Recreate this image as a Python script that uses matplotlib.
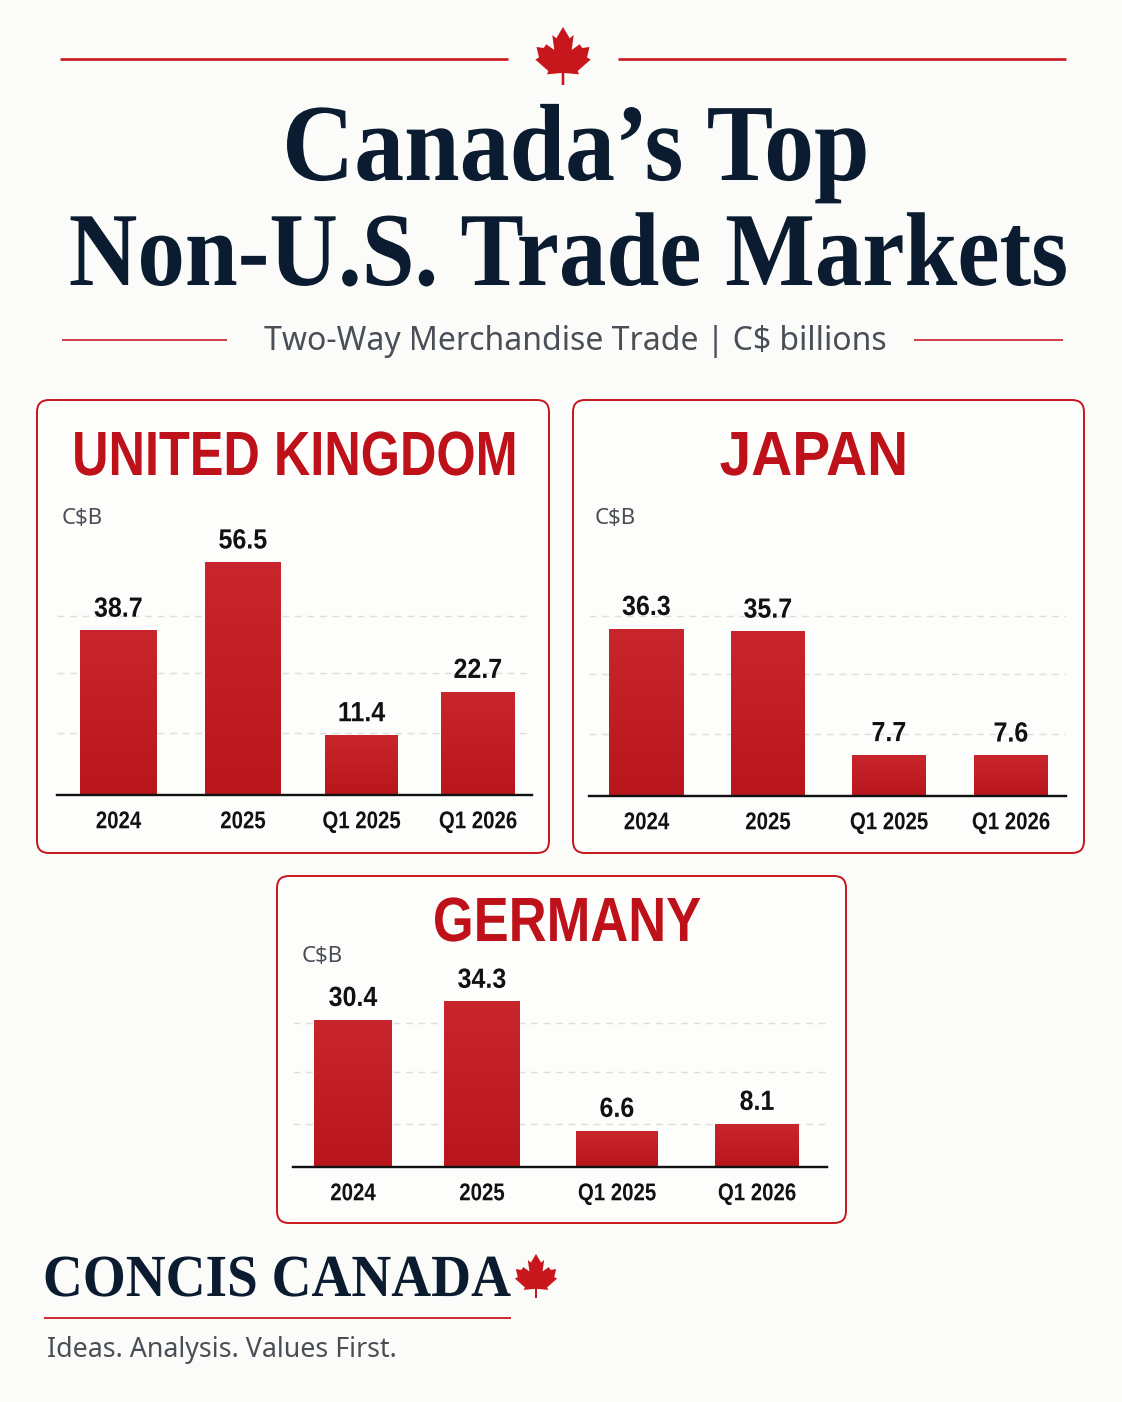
import matplotlib
matplotlib.use('Agg')
import matplotlib.pyplot as plt
import numpy as np
from matplotlib.patches import FancyBboxPatch, Polygon
from matplotlib.patheffects import AbstractPathEffect
from matplotlib.transforms import Affine2D

# ── Data ─────────────────────────────────────────────────────────────────
periods = ['2024', '2025', 'Q1 2025', 'Q1 2026']
uk_values = [38.7, 56.5, 11.4, 22.7]
japan_values = [36.3, 35.7, 7.7, 7.6]
germany_values = [30.4, 34.3, 6.6, 8.1]

# dashed guides carry no labels in the source, levels are estimates
uk_grid = [11.9, 27.6, 42.5]
japan_grid = [12.4, 26.0, 39.2]
germany_grid = [8.0, 19.2, 29.7]

# ── Palette ──────────────────────────────────────────────────────────────
BG = '#FBFBF9'
NAVY = '#0B1B30'
RED = '#C8161D'
TITLE_RED = '#BE1119'
BAR_TOP = '#C9252D'
BAR_BOTTOM = '#B8161C'
GRAY = '#4A4F57'
GRID = '#DEDEDC'

W, H = 1122, 1402
SERIF = ['Liberation Serif', 'DejaVu Serif']
SANS = ['Liberation Sans', 'DejaVu Sans']
PX = 72 / 100  # one pixel in points at dpi 100


class Squeeze(AbstractPathEffect):
    """Narrow a text horizontally about its centre (no condensed font installed)."""

    def __init__(self, sx):
        super().__init__()
        self.sx = sx

    def draw_path(self, renderer, gc, tpath, affine, rgbFace=None):
        xs = affine.transform(tpath.vertices)[:, 0]
        cx = (xs.min() + xs.max()) / 2
        squeezed = affine + Affine2D().translate(-cx, 0).scale(self.sx, 1).translate(cx, 0)
        renderer.draw_path(gc, tpath, squeezed, rgbFace)


fig = plt.figure(figsize=(W / 100, H / 100), dpi=100, facecolor=BG)
bg = fig.add_axes([0, 0, 1, 1])
bg.set_xlim(0, W)
bg.set_ylim(H, 0)
bg.axis('off')

# half a maple leaf, traced from the header ornament (x out, y up from stem foot)
LEAF_HALF = [(0, 58), (6.7, 46.7), (10.7, 50), (8.7, 35), (16.7, 40.7), (19.3, 37),
             (26.5, 38), (24, 27.5), (27.7, 25.5), (14.7, 14), (16, 10.7),
             (1.3, 12), (1.3, 0)]


def leaf(cx, foot_y, scale=1.0):
    half = np.array(LEAF_HALF) * scale
    right = np.column_stack([cx + half[:, 0], foot_y - half[:, 1]])
    left = np.column_stack([cx - half[:, 0], foot_y - half[:, 1]])[::-1]
    bg.add_patch(Polygon(np.vstack([right, left]), closed=True,
                         facecolor=RED, edgecolor='none'))


def rule(x0, x1, y, px):
    bg.plot([x0, x1], [y, y], color=RED, lw=px * PX, solid_capstyle='butt')


# ── Header ───────────────────────────────────────────────────────────────
rule(60, 508, 59, 2.6)
rule(618, 1066, 59, 2.6)
leaf(563, 85)

bg.text(576, 180, 'Canada’s Top', family=SERIF, fontweight='bold', fontsize=79,
        color=NAVY, ha='center', va='baseline', path_effects=[Squeeze(0.91)])
bg.text(569, 285, 'Non-U.S. Trade Markets', family=SERIF, fontweight='bold', fontsize=75.5,
        color=NAVY, ha='center', va='baseline', path_effects=[Squeeze(0.906)])

rule(62, 227, 340, 1.6)
rule(914, 1063, 340, 1.6)
bg.text(575.5, 342, 'Two-Way Merchandise Trade | C$ billions', family='Noto Sans',
        fontsize=23, color=GRAY, ha='center', va='center')


# ── Panels ───────────────────────────────────────────────────────────────
def panel(name, values, grid, box, title_xy, title_squeeze, unit_xy, axis_x, base_y, centers,
          widths, slope, floor, tick_pad=11):
    x0, y0, x1, y1 = box
    bg.add_patch(FancyBboxPatch((x0, y0), x1 - x0, y1 - y0,
                                boxstyle='round,pad=0,rounding_size=12',
                                facecolor='#FDFDFC', edgecolor=RED, linewidth=1.4))
    bg.text(title_xy[0], title_xy[1], name, family=SANS, fontweight='bold',
            fontsize=45, color=TITLE_RED, ha='center', va='baseline',
            path_effects=[Squeeze(title_squeeze)])
    bg.text(unit_xy[0], unit_xy[1], 'C$B', family='Noto Sans', fontsize=16,
            color=GRAY, ha='left', va='center')

    top_y = y0 + 60
    ax = fig.add_axes([axis_x[0] / W, 1 - base_y / H,
                       (axis_x[1] - axis_x[0]) / W, (base_y - top_y) / H])
    ax.patch.set_alpha(0)

    # the source bars are not strictly to scale: small bars sit a little high,
    # so the value axis starts just under zero
    vals = np.array(values)
    bars = ax.bar(centers, vals - floor, bottom=floor, width=widths, color=BAR_TOP, zorder=3)
    ramp = np.linspace(0, 1, 64).reshape(-1, 1)
    cmap = matplotlib.colors.LinearSegmentedColormap.from_list('bar', [BAR_TOP, BAR_BOTTOM])
    for b in bars:
        im = ax.imshow(ramp, cmap=cmap, aspect='auto', zorder=3.5,
                       extent=(b.get_x(), b.get_x() + b.get_width(), floor, floor + b.get_height()))
        im.set_clip_path(b)
    ax.set_xlim(*axis_x)
    ax.set_ylim(floor, floor + (base_y - top_y) / slope)
    ax.bar_label(bars, labels=[f'{v:.1f}' for v in values], padding=5.5, family=SANS,
                 fontweight='bold', fontsize=20, color='#111111', zorder=5,
                 path_effects=[Squeeze(0.9)])

    ax.set_xticks(centers, periods, family=SANS, fontweight='bold', fontsize=17.5,
                  color='#111111', path_effects=[Squeeze(0.84)])
    ax.tick_params(axis='x', length=0, pad=tick_pad)
    ax.set_yticks(grid)
    ax.tick_params(axis='y', length=0, labelleft=False)
    ax.grid(axis='y', color=GRID, linestyle=(0, (5, 4)), linewidth=1, zorder=1)
    ax.set_axisbelow(True)
    for side in ('top', 'left', 'right'):
        ax.spines[side].set_visible(False)
    ax.spines['bottom'].set_linewidth(2.4 * PX)
    ax.spines['bottom'].set_color('#111111')
    ax.spines['bottom'].set_zorder(6)


panel('UNITED KINGDOM', uk_values, uk_grid, (37, 400, 549, 853), (295, 475), 0.807, (62, 518),
      (57, 532), 795, [118.5, 243, 361.5, 478], [77, 76, 73, 74], 3.83, -4.3)
panel('JAPAN', japan_values, japan_grid, (573, 400, 1084, 853), (814, 475), 0.91, (595, 518),
      (589, 1066), 796, [646.5, 768, 889, 1011], [75, 74, 74, 74], 4.41, -1.65)
panel('GERMANY', germany_values, germany_grid, (277, 876, 846, 1223), (567, 941), 0.84, (302, 957),
      (293, 827), 1167, [353, 482, 617, 757], [78, 76, 82, 84], 4.66, -1.23)

# ── Footer ───────────────────────────────────────────────────────────────
bg.text(277, 1296, 'CONCIS CANADA', family=SERIF, fontweight='bold', fontsize=43,
        color=NAVY, ha='center', va='baseline', path_effects=[Squeeze(0.925)])
leaf(536, 1298, 0.76)
rule(44, 511, 1318, 1.8)
bg.text(47, 1350, 'Ideas. Analysis. Values First.', family='Noto Sans', fontsize=19.3,
        color=GRAY, ha='left', va='center')

fig.savefig('out.png', dpi=100, facecolor=BG)
plt.close(fig)
